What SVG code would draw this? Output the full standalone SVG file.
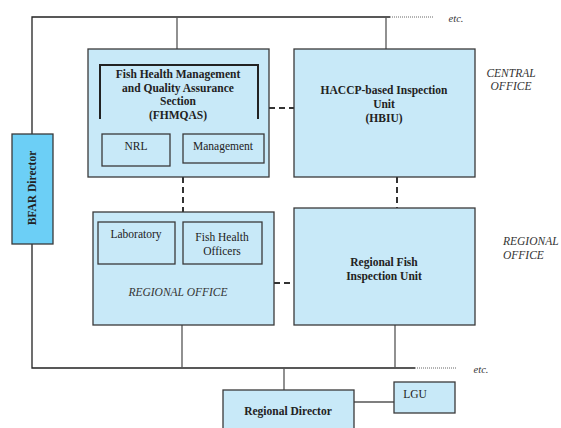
<svg xmlns="http://www.w3.org/2000/svg" width="561" height="428" viewBox="0 0 561 428">
<style>
.box{fill:#c8e9f8;stroke:#3a3a3a;stroke-width:1.3}
.dir{fill:#6ccff6;stroke:#3a3a3a;stroke-width:1.3}
.ln{stroke:#555;stroke-width:1.3;fill:none}
.main{stroke:#222;stroke-width:1.3;fill:none}
.dash{stroke:#333;stroke-width:2;stroke-dasharray:6,4;fill:none}
.dot{stroke:#666;stroke-width:1;stroke-dasharray:1,1;fill:none}
.br{stroke:#222;stroke-width:2;fill:none}
text{font-family:"Liberation Serif","Times New Roman",serif;fill:#222;font-size:11.5px;text-anchor:middle}
.b{font-weight:bold}
.i{font-style:italic;fill:#333}
</style>
<rect width="561" height="428" fill="#fff"/>
<g id="connectors">
<polyline class="main" points="32,134 32,17 390,17"/>
<line class="dot" x1="390" y1="17" x2="433" y2="17"/>
<line class="ln" x1="177" y1="17" x2="177" y2="49"/>
<line class="ln" x1="386" y1="17" x2="386" y2="49"/>
<polyline class="main" points="32,244 32,368 415,368"/>
<line class="dot" x1="415" y1="368" x2="457" y2="368"/>
<line class="ln" x1="182" y1="325" x2="182" y2="368"/>
<line class="ln" x1="395" y1="325" x2="395" y2="368"/>
<line class="ln" x1="284" y1="368" x2="284" y2="390"/>
<line class="ln" x1="354" y1="402" x2="394" y2="402"/>
<line class="dash" x1="269" y1="108" x2="294" y2="108"/>
<line class="dash" x1="183" y1="177" x2="183" y2="212"/>
<line class="dash" x1="274" y1="283" x2="294" y2="283"/>
<line class="dash" x1="397" y1="177" x2="397" y2="208"/>
</g>
<g id="bfar">
<rect class="dir" x="12" y="134" width="41" height="110"/>
<text class="b" transform="translate(35.5,188) rotate(-90)">BFAR Director</text>
</g>
<g id="fhmqas">
<rect class="box" x="88" y="49" width="181" height="128"/>
<polyline class="br" points="100,119 100,65 258,65 258,119"/>
<text class="b" x="178" y="78">Fish Health Management</text>
<text class="b" x="178" y="92">and Quality Assurance</text>
<text class="b" x="178" y="105">Section</text>
<text class="b" x="178" y="119">(FHMQAS)</text>
</g>
<g id="nrl">
<rect class="box" x="102" y="134" width="68" height="32"/>
<text x="136" y="150">NRL</text>
</g>
<g id="management">
<rect class="box" x="183" y="134" width="81" height="29"/>
<text x="223" y="150">Management</text>
</g>
<g id="hbiu">
<rect class="box" x="294" y="49" width="181" height="128"/>
<text class="b" x="384" y="94">HACCP-based Inspection</text>
<text class="b" x="384" y="108">Unit</text>
<text class="b" x="384" y="122">(HBIU)</text>
</g>
<g id="regional-office">
<rect class="box" x="93" y="212" width="181" height="113"/>
<text class="i" x="178" y="296">REGIONAL OFFICE</text>
</g>
<g id="laboratory">
<rect class="box" x="98" y="222" width="77" height="42"/>
<text x="136" y="238">Laboratory</text>
</g>
<g id="fho">
<rect class="box" x="183" y="222" width="79" height="42"/>
<text x="222" y="241">Fish Health</text>
<text x="222" y="255">Officers</text>
</g>
<g id="rfiu">
<rect class="box" x="294" y="208" width="181" height="117"/>
<text class="b" x="384" y="266">Regional Fish</text>
<text class="b" x="384" y="280">Inspection Unit</text>
</g>
<g id="regional-director">
<rect class="box" x="223" y="390" width="131" height="45"/>
<text class="b" x="288" y="415">Regional Director</text>
</g>
<g id="lgu">
<rect class="box" x="394" y="382" width="61" height="31"/>
<text x="415" y="398">LGU</text>
</g>
<g id="labels">
<text class="i" x="456" y="22" style="font-size:10.5px">etc.</text>
<text class="i" x="481" y="373" style="font-size:10.5px">etc.</text>
<text class="i" x="511" y="77">CENTRAL</text>
<text class="i" x="511" y="90">OFFICE</text>
<text class="i" x="503" y="245" style="text-anchor:start">REGIONAL</text>
<text class="i" x="503" y="259" style="text-anchor:start">OFFICE</text>
</g>
</svg>
